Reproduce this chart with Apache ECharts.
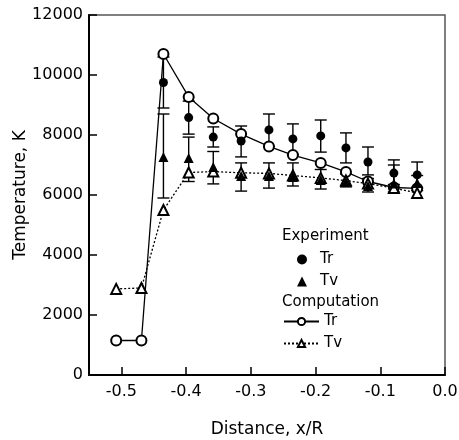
<!DOCTYPE html>
<html lang="en">
<head>
    <meta charset="UTF-8">
    <title>Temperature vs distance</title>
    <script src="https://cdn.jsdelivr.net/npm/echarts@6/dist/echarts.min.js"></script>
    <style>
        html, body { margin: 0; padding: 0; background: #fff; }
        #main { width: 459px; height: 440px; }
    </style>
</head>
<body>
    <div id="main"></div>
<script>
    // x positions (x/R)
    const expX = [-0.435, -0.396, -0.358, -0.315, -0.272, -0.235, -0.192, -0.153, -0.119, -0.079, -0.043];
    // experiment Tr with error bar ends
    const expTr = [9750, 8580, 7930, 7800, 8170, 7870, 7970, 7570, 7100, 6730, 6670];
    const expTrLow = [8900, 8030, 7600, 7270, 7620, 7350, 7430, 7070, 6670, 6350, 6250];
    const expTrHigh = [10600, 9130, 8270, 8300, 8700, 8370, 8500, 8070, 7600, 7170, 7100];
    // experiment Tv with error bar ends
    const expTv = [7270, 7230, 6930, 6630, 6630, 6600, 6500, 6430, 6300, 6380, 6400];
    const expTvLow = [5900, 6450, 6370, 6130, 6230, 6300, 6200, 6270, 6100, 6100, 6150];
    const expTvHigh = [8700, 7930, 7450, 7070, 7070, 7070, 6850, 6700, 6550, 7000, 6650];

    // computation
    const compX = [-0.508, -0.469, -0.435, -0.396, -0.358, -0.315, -0.272, -0.235, -0.192, -0.153, -0.119, -0.079, -0.043];
    const compTr = [1150, 1150, 10700, 9270, 8550, 8030, 7620, 7330, 7070, 6770, 6450, 6250, 6220];
    const compTv = [2870, 2900, 5500, 6750, 6780, 6740, 6720, 6650, 6570, 6480, 6380, 6230, 6070];

    const xTicks = [-0.5, -0.4, -0.3, -0.2, -0.1, 0.0];

    const font = 'DejaVu Sans';

    function pairs(xs, ys) {
        return xs.map(function (x, i) { return [x, ys[i]]; });
    }
    function bars(xs, lo, hi) {
        return xs.map(function (x, i) { return [x, lo[i], hi[i]]; });
    }

    // vertical error bar with caps
    function errorBar(params, api) {
        let x = api.value(0);
        let top = api.coord([x, api.value(2)]);
        let bot = api.coord([x, api.value(1)]);
        let w = 6;
        let st = { stroke: '#000', lineWidth: 1.4 };
        return {
            type: 'group',
            children: [
                { type: 'line', shape: { x1: top[0], y1: top[1], x2: bot[0], y2: bot[1] }, style: st },
                { type: 'line', shape: { x1: top[0] - w, y1: top[1], x2: top[0] + w, y2: top[1] }, style: st },
                { type: 'line', shape: { x1: bot[0] - w, y1: bot[1], x2: bot[0] + w, y2: bot[1] }, style: st }
            ]
        };
    }

    let myChart = echarts.init(document.getElementById('main'));
    let option = {
        backgroundColor: '#fff',
        animation: false,
        textStyle: { fontFamily: font, color: '#000' },
        grid: {
            left: 89, right: 14, top: 15, bottom: 65,
            containLabel: false,
            outerBoundsMode: 'none',
            show: true, borderColor: '#555', borderWidth: 1.5
        },
        xAxis: {
            type: 'value',
            min: -0.55, max: 0,
            name: 'Distance, x/R',
            nameLocation: 'middle',
            nameGap: 46,
            nameMoveOverlap: false,
            nameTextStyle: { fontSize: 17, color: '#000', fontFamily: font },
            axisLine: { onZero: false, lineStyle: { color: '#000', width: 2 } },
            axisTick: { inside: true, length: 8, customValues: xTicks, lineStyle: { color: '#000', width: 1.5 } },
            axisLabel: {
                customValues: xTicks,
                margin: 9, fontSize: 16, color: '#000', fontFamily: font,
                formatter: function (v) { return v.toFixed(1); }
            },
            splitLine: { show: false }
        },
        yAxis: {
            type: 'value',
            min: 0, max: 12000, interval: 2000,
            name: 'Temperature, K',
            nameLocation: 'middle',
            nameGap: 60,
            nameMoveOverlap: false,
            nameTextStyle: { fontSize: 17, color: '#000', fontFamily: font },
            axisLine: { show: true, onZero: false, lineStyle: { color: '#000', width: 2 } },
            axisTick: { show: true, inside: true, length: 8, lineStyle: { color: '#000', width: 1.5 } },
            axisLabel: {
                margin: 6, fontSize: 16, color: '#000', fontFamily: font,
                formatter: function (v) { return String(v); }
            },
            splitLine: { show: false }
        },
        legend: [
            {
                data: [{ name: 'Tr', icon: 'circle' }, { name: 'Tv', icon: 'triangle' }],
                orient: 'vertical',
                left: 297, top: 252, padding: 0,
                itemWidth: 10, itemHeight: 10, itemGap: 7,
                textStyle: { fontSize: 15, color: '#000', fontFamily: font, padding: [0, 0, 0, 8] },
                selectedMode: false
            },
            {
                data: ['Tr ', 'Tv '],
                orient: 'vertical',
                left: 283, top: 314, padding: 0,
                itemWidth: 35, itemHeight: 9, itemGap: 7,
                textStyle: { fontSize: 15, color: '#000', fontFamily: font },
                formatter: function (name) { return name.trim(); },
                selectedMode: false
            }
        ],
        graphic: [
            { type: 'text', left: 282, top: 229, style: { text: 'Experiment', font: '15px "DejaVu Sans"', fill: '#000' } },
            { type: 'text', left: 282, top: 295, style: { text: 'Computation', font: '15px "DejaVu Sans"', fill: '#000' } }
        ],
        series: [
            {
                name: 'Tr error',
                type: 'custom',
                renderItem: errorBar,
                data: bars(expX, expTrLow, expTrHigh),
                z: 1
            },
            {
                name: 'Tv error',
                type: 'custom',
                renderItem: errorBar,
                data: bars(expX, expTvLow, expTvHigh),
                z: 1
            },
            {
                name: 'Tr ',
                type: 'line',
                data: pairs(compX, compTr),
                symbol: 'emptyCircle',
                symbolSize: 10,
                itemStyle: { color: '#000', borderWidth: 1.3 },
                lineStyle: { color: '#000', width: 1.3 },
                z: 2
            },
            {
                name: 'Tv ',
                type: 'line',
                data: pairs(compX, compTv),
                symbol: 'emptyTriangle',
                symbolSize: 10,
                itemStyle: { color: '#000', borderWidth: 1.2 },
                lineStyle: { color: '#000', width: 1.3, type: [2, 2] },
                z: 2
            },
            {
                name: 'Tr',
                type: 'scatter',
                data: pairs(expX, expTr),
                symbol: 'circle',
                symbolSize: 9,
                itemStyle: { color: '#000', opacity: 1 },
                z: 3
            },
            {
                name: 'Tv',
                type: 'scatter',
                data: pairs(expX, expTv),
                symbol: 'triangle',
                symbolSize: 10,
                itemStyle: { color: '#000', opacity: 1 },
                z: 3
            }
        ]
    };
    myChart.setOption(option);
</script>
</body>
</html>
